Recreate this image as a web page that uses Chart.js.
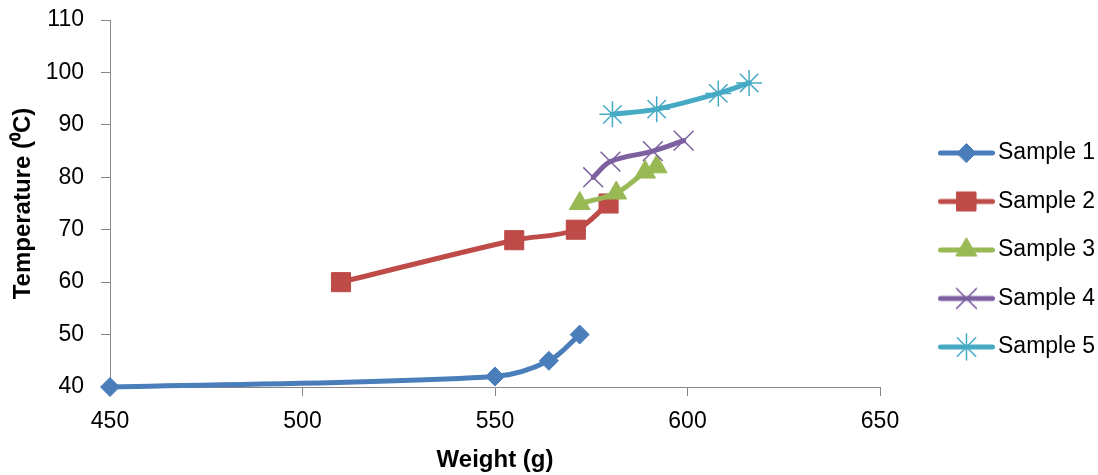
<!DOCTYPE html>
<html>
<head>
<meta charset="utf-8">
<script src="https://cdn.jsdelivr.net/npm/chart.js@4.4.1/dist/chart.umd.min.js"></script>
<style>
  html, body { margin: 0; padding: 0; background: #fff; }
  canvas { display: block; }
</style>
</head>
<body>
<canvas id="chart" width="1098" height="475"></canvas>
<script>
// weight (g) against temperature (°C) for each sample
const seriesNames = ['Sample 1', 'Sample 2', 'Sample 3', 'Sample 4', 'Sample 5'];
const sample1Weight = [450, 550, 564, 572];
const sample1Temp = [40, 42, 45, 50];
const sample2Weight = [510, 555, 571, 579.5];
const sample2Temp = [60, 68, 70, 75];
const sample3Weight = [572, 581.5, 589, 592];
const sample3Temp = [75, 77, 81, 82];
const sample4Weight = [575.5, 580, 591, 599];
const sample4Temp = [80, 83, 85, 87];
const sample5Weight = [580.5, 592, 608, 616];
const sample5Temp = [92, 93, 96, 98];

const xTicks = [450, 500, 550, 600, 650];
const yTicks = [40, 50, 60, 70, 80, 90, 100, 110];

const weights = [sample1Weight, sample2Weight, sample3Weight, sample4Weight, sample5Weight];
const temps = [sample1Temp, sample2Temp, sample3Temp, sample4Temp, sample5Temp];

const colors = ['#4A7EBB', '#BE4B48', '#98B954', '#7D60A0', '#46AAC5'];
const markers = ['rectRot', 'rect', 'triangle', 'crossRot', 'star'];
const markerRadius = [9.5, 13.5, 12, 14, 13];
const markerBorder = [1, 1, 1, 1.5, 1.5];

const FONT = "'Liberation Sans', Arial, sans-serif";
const AXIS = '#868686';

// legend swatch: short thick line with the marker in the middle
function legendSymbol(i) {
  const c = document.createElement('canvas');
  c.width = 100;
  c.height = 30;
  const ctx = c.getContext('2d');
  ctx.strokeStyle = colors[i];
  ctx.fillStyle = colors[i];
  ctx.lineWidth = 5;
  ctx.lineCap = 'round';
  ctx.beginPath();
  ctx.moveTo(44.5, 15);
  ctx.lineTo(96.5, 15);
  ctx.stroke();
  ctx.lineWidth = markerBorder[i];
  Chart.helpers.drawPoint(ctx, {
    pointStyle: markers[i],
    radius: markerRadius[i],
    borderWidth: markerBorder[i],
    rotation: 0
  }, 70.5, 15);
  return c;
}
const symbols = seriesNames.map((n, i) => legendSymbol(i));

const datasets = seriesNames.map((name, i) => ({
  label: name,
  data: weights[i].map((w, k) => ({ x: w, y: temps[i][k] })),
  borderColor: colors[i],
  backgroundColor: colors[i],
  borderWidth: 5,
  borderCapStyle: 'round',
  borderJoinStyle: 'round',
  tension: 0.35,
  pointStyle: markers[i],
  pointRadius: markerRadius[i],
  pointBorderWidth: markerBorder[i],
  pointBackgroundColor: colors[i],
  pointBorderColor: colors[i],
  clip: false,
  order: seriesNames.length - i   // later samples sit on top
}));

new Chart(document.getElementById('chart'), {
  type: 'line',
  data: { datasets: datasets },
  options: {
    responsive: false,
    animation: false,
    devicePixelRatio: 1,
    events: [],
    layout: { padding: { top: 20 } },
    plugins: {
      tooltip: { enabled: false },
      legend: {
        position: 'right',
        align: 'center',
        maxWidth: 218,
        // empty title only nudges the entries down a little
        title: { display: true, text: '', font: { size: 5, lineHeight: 1 }, padding: 0 },
        labels: {
          usePointStyle: true,
          pointStyleWidth: 81,
          padding: 25.5,
          color: '#000',
          font: { family: FONT, size: 23 },
          sort: (a, b) => a.datasetIndex - b.datasetIndex,
          generateLabels: (chart) => {
            const items = Chart.defaults.plugins.legend.labels.generateLabels(chart);
            items.forEach(it => { it.pointStyle = symbols[it.datasetIndex]; });
            return items;
          }
        }
      }
    },
    scales: {
      x: {
        type: 'linear',
        min: xTicks[0],
        max: xTicks[xTicks.length - 1],
        afterBuildTicks: (scale) => { scale.ticks = xTicks.map(v => ({ value: v })); },
        ticks: { color: '#000', font: { family: FONT, size: 23 }, padding: 12 },
        grid: { drawOnChartArea: false, drawTicks: true, tickLength: 9, color: AXIS, tickColor: AXIS },
        border: { display: true, color: AXIS, width: 1 },
        title: {
          display: true,
          text: 'Weight (g)',
          color: '#000',
          font: { family: FONT, size: 24, weight: 'bold' },
          padding: { top: 0, bottom: 0 }
        },
        afterFit: (scale) => { scale.height = 88; }
      },
      y: {
        type: 'linear',
        min: yTicks[0],
        max: yTicks[yTicks.length - 1],
        afterBuildTicks: (scale) => { scale.ticks = yTicks.map(v => ({ value: v })); },
        ticks: { color: '#000', font: { family: FONT, size: 23 }, padding: 17 },
        grid: { drawOnChartArea: false, drawTicks: true, tickLength: 9, color: AXIS, tickColor: AXIS },
        border: { display: true, color: AXIS, width: 1 },
        title: {
          display: true,
          text: 'Temperature (⁰C)',
          color: '#000',
          font: { family: FONT, size: 24, weight: 'bold' },
          padding: { top: 9, bottom: 0 }
        },
        afterFit: (scale) => {
          scale.width = 110;
          // the top label only needs half its height above the axis
          scale.paddingTop = 12;
        }
      }
    }
  }
});
</script>
</body>
</html>
